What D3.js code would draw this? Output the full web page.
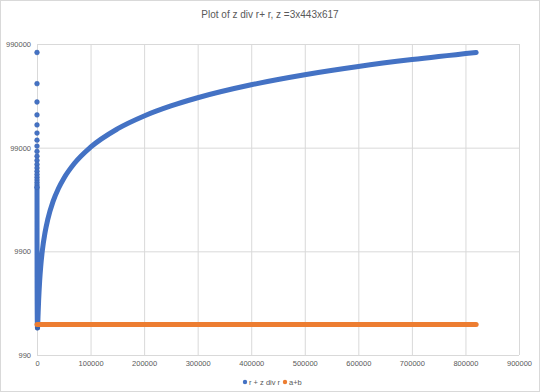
<!DOCTYPE html>
<html>
<head>
<meta charset="utf-8">
<script src="https://cdn.jsdelivr.net/npm/d3@7"></script>
<style>
  body { margin: 0; background: #fff; }
  text { font-family: "Liberation Sans", Arial, sans-serif; fill: #595959; }
</style>
</head>
<body>
<div id="chart"></div>
<script>
// tick values
var xTicks = [0, 100000, 200000, 300000, 400000, 500000, 600000, 700000, 800000, 900000];
var yTicks = [990, 9900, 99000, 990000];
var seriesNames = ["r + z div r", "a+b"];

// r + z div r : first separate dots near r = 0
var dotR = [1, 2, 3, 4, 5, 6, 7, 8, 9, 10, 11, 12, 13, 14, 15, 16, 17, 18, 19, 20];
var dotVal = [820000, 410000, 273000, 205000, 164000, 137000, 117000, 102500, 91100, 82000,
              74600, 68300, 63100, 58600, 54700, 51300, 48300, 45600, 43200, 41000];

// r + z div r : the dense part
var curveR = [20, 25, 30, 40, 50, 70, 100, 150, 200, 300, 400, 500, 700, 905, 1300, 2000, 3000,
              5000, 7000, 10000, 15000, 20000, 30000, 40000, 50000, 70000, 100000, 150000,
              200000, 250000, 300000, 400000, 500000, 600000, 700000, 820000];
var curveVal = [41000, 32800, 27400, 20500, 16500, 11800, 8300, 5600, 4300, 3030, 2450, 2140, 1870, 1810, 1930, 2410, 3270,
                5160, 7120, 10100, 15050, 20000, 30000, 40000, 50000, 70000, 100000, 150000,
                200000, 250000, 300000, 400000, 500000, 600000, 700000, 820000];

// a+b
var sumR = [1, 820000];
var sumVal = [1946, 1946];

var svgWidth = 540, svgHeight = 392;
var margin = { top: 44, right: 21, bottom: 37, left: 37 };
var width = svgWidth - margin.left - margin.right;
var height = svgHeight - margin.top - margin.bottom;

var svg = d3.select("#chart").append("svg")
    .attr("width", svgWidth)
    .attr("height", svgHeight);

// chart border
svg.append("rect")
    .attr("x", 0.5).attr("y", 0.5)
    .attr("width", svgWidth - 1).attr("height", svgHeight - 1)
    .attr("fill", "#fff")
    .attr("stroke", "#d9d9d9");

svg.append("text")
    .attr("x", svgWidth / 2)
    .attr("y", 18)
    .attr("text-anchor", "middle")
    .style("font-size", "10px")
    .text("Plot of z div r+ r, z =3x443x617");

var chartGroup = svg.append("g")
    .attr("transform", `translate(${margin.left}, ${margin.top})`);

var xScale = d3.scaleLinear().domain([0, 900000]).range([0, width]);
var yScale = d3.scaleLog().domain([990, 990000]).range([height, 0]);

// gridlines
chartGroup.append("g")
    .attr("transform", `translate(0, ${height})`)
    .call(d3.axisBottom(xScale).tickValues(xTicks).tickSize(-height).tickFormat(d3.format("d")).tickPadding(6))
    .call(g => g.select(".domain").remove())
    .call(g => g.selectAll("line").attr("stroke", "#d9d9d9"))
    .call(g => g.selectAll("text").style("font-size", "7.5px").attr("fill", "#595959"));

chartGroup.append("g")
    .call(d3.axisLeft(yScale).tickValues(yTicks).tickSize(-width).tickFormat(d3.format("d")).tickPadding(6))
    .call(g => g.select(".domain").remove())
    .call(g => g.selectAll("line").attr("stroke", "#d9d9d9"))
    .call(g => g.selectAll("text").style("font-size", "7.5px").attr("fill", "#595959"));

var blue = "#4472c4", orange = "#ed7d31";

var line = d3.line()
    .x(d => xScale(d[0]))
    .y(d => yScale(d[1]))
    .curve(d3.curveMonotoneX);

// blue series
chartGroup.append("path")
    .datum(d3.zip(curveR, curveVal))
    .attr("fill", "none")
    .attr("stroke", blue)
    .attr("stroke-width", 5)
    .attr("stroke-linecap", "round")
    .attr("stroke-linejoin", "round")
    .attr("d", line);

chartGroup.selectAll(".dot")
    .data(d3.zip(dotR, dotVal))
    .enter()
    .append("circle")
    .attr("class", "dot")
    .attr("cx", d => xScale(d[0]))
    .attr("cy", d => yScale(d[1]))
    .attr("r", 2.4)
    .attr("fill", blue)
    .attr("stroke", "#3a63ad")
    .attr("stroke-width", 0.5);

// minimum marker at the bottom of the column
chartGroup.append("circle")
    .attr("cx", xScale(curveR[13]))
    .attr("cy", yScale(curveVal[13]))
    .attr("r", 2.6)
    .attr("fill", "#3a63ad");

// orange series
chartGroup.append("path")
    .datum(d3.zip(sumR, sumVal))
    .attr("fill", "none")
    .attr("stroke", orange)
    .attr("stroke-width", 5)
    .attr("stroke-linecap", "round")
    .attr("d", line);

// legend
var legend = svg.append("g").attr("transform", `translate(245, 382)`);
var items = [{ name: seriesNames[0], color: blue, x: 0 }, { name: seriesNames[1], color: orange, x: 40 }];
items.forEach(function (it) {
    legend.append("circle")
        .attr("cx", it.x).attr("cy", 0).attr("r", 2.2)
        .attr("fill", it.color);
    legend.append("text")
        .attr("x", it.x + 4).attr("y", 2.6)
        .style("font-size", "7.5px")
        .text(it.name);
});
</script>
</body>
</html>
